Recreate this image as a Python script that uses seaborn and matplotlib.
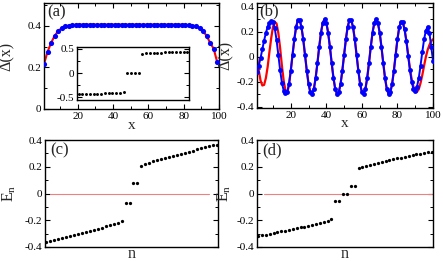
import matplotlib
matplotlib.use("Agg")
import matplotlib.pyplot as plt
import seaborn as sns
from matplotlib.ticker import MultipleLocator, FuncFormatter

# ---------------- data ----------------
# panel (a): order parameter profile, uniform phase
x_a = list(range(1, 100, 2))
delta_a = [0.216, 0.275, 0.318, 0.352, 0.375, 0.389, 0.397, 0.401, 0.403, 0.405,
           0.406, 0.406, 0.406, 0.406, 0.406, 0.406, 0.406, 0.406, 0.406, 0.406,
           0.406, 0.406, 0.406, 0.406, 0.406, 0.406, 0.406, 0.406, 0.406, 0.406,
           0.406, 0.406, 0.406, 0.406, 0.406, 0.406, 0.406, 0.406, 0.406, 0.406,
           0.405, 0.403, 0.401, 0.397, 0.389, 0.375, 0.352, 0.318, 0.29, 0.225]

# inset of (a): spectrum
n_in = list(range(1, 31))
E_in = [-0.445, -0.441, -0.438, -0.435, -0.432, -0.429, -0.426, -0.423, -0.420,
        -0.417, -0.413, -0.409, -0.404,
        0.0, 0.0, 0.0, 0.0,
        0.404, 0.409, 0.413, 0.417, 0.420, 0.423, 0.426, 0.429, 0.432, 0.435,
        0.438, 0.441, 0.445]

# panel (b): oscillating order parameter
x_b = list(range(1, 101))
blue_b = [-0.12, -0.07, -0.01, 0.06, 0.13, 0.19, 0.24, 0.27, 0.285, 0.278,
          0.227, 0.133, 0.015, -0.105, -0.207, -0.270, -0.290, -0.284, -0.218, -0.111,
          0.016, 0.140, 0.239, 0.293, 0.293, 0.239, 0.140, 0.016, -0.111, -0.218,
          -0.284, -0.298, -0.257, -0.168, -0.049, 0.080, 0.194, 0.272, 0.300, 0.272,
          0.194, 0.080, -0.049, -0.168, -0.257, -0.298, -0.284, -0.218, -0.111, 0.016,
          0.140, 0.239, 0.293, 0.293, 0.239, 0.140, 0.016, -0.111, -0.218, -0.284,
          -0.298, -0.257, -0.168, -0.049, 0.080, 0.194, 0.272, 0.300, 0.272, 0.194,
          0.080, -0.049, -0.168, -0.257, -0.298, -0.284, -0.218, -0.111, 0.016, 0.140,
          0.235, 0.280, 0.275, 0.220, 0.125, 0.010, -0.105, -0.200, -0.258, -0.272,
          -0.240, -0.170, -0.070, 0.040, 0.140, 0.210, 0.240, 0.190, 0.080, -0.030]
red_b = [0.00, -0.11, -0.19, -0.23, -0.225, -0.17, -0.08, 0.04, 0.15, 0.24,
         0.28, 0.265, 0.19, 0.07, -0.07, -0.19, -0.27, -0.29, -0.225, -0.111,
         0.016, 0.140, 0.239, 0.293, 0.293, 0.239, 0.140, 0.016, -0.111, -0.218,
         -0.284, -0.298, -0.257, -0.168, -0.049, 0.080, 0.194, 0.272, 0.300, 0.272,
         0.194, 0.080, -0.049, -0.168, -0.257, -0.298, -0.284, -0.218, -0.111, 0.016,
         0.140, 0.239, 0.293, 0.293, 0.239, 0.140, 0.016, -0.111, -0.218, -0.284,
         -0.298, -0.257, -0.168, -0.049, 0.080, 0.194, 0.272, 0.300, 0.272, 0.194,
         0.080, -0.049, -0.168, -0.257, -0.298, -0.284, -0.218, -0.111, 0.016, 0.140,
         0.235, 0.280, 0.275, 0.220, 0.130, 0.020, -0.090, -0.180, -0.240, -0.275,
         -0.280, -0.260, -0.210, -0.145, -0.070, 0.000, 0.055, 0.095, 0.125, 0.140]

# panel (c): spectrum
n_c = list(range(1, 45))
E_c = [-0.365, -0.357, -0.350, -0.343, -0.336, -0.328, -0.320, -0.312, -0.304, -0.296,
       -0.288, -0.280, -0.272, -0.264, -0.255, -0.246, -0.237, -0.228, -0.218, -0.205,
       -0.070, -0.070, 0.075, 0.075,
       0.208, 0.220, 0.230, 0.240, 0.249, 0.257, 0.265, 0.273, 0.281, 0.289,
       0.297, 0.305, 0.313, 0.321, 0.329, 0.337, 0.345, 0.352, 0.359, 0.366]

# panel (d): spectrum
n_d = list(range(1, 47))
E_d = [-0.320, -0.313, -0.307, -0.301, -0.295, -0.289, -0.283, -0.277, -0.271, -0.265,
       -0.259, -0.253, -0.247, -0.240, -0.233, -0.226, -0.219, -0.211, -0.203, -0.193,
       -0.055, -0.055, 0.0, 0.0, 0.055, 0.055,
       0.190, 0.200, 0.208, 0.215, 0.222, 0.229, 0.236, 0.243, 0.250, 0.256,
       0.262, 0.268, 0.274, 0.280, 0.286, 0.292, 0.298, 0.304, 0.309, 0.314]

# ---------------- style ----------------
sns.set_theme(style="ticks")
plt.rcParams["font.family"] = ["Liberation Serif", "DejaVu Serif"]
plt.rcParams["mathtext.fontset"] = "custom"
plt.rcParams["mathtext.rm"] = "Liberation Serif"
plt.rcParams["mathtext.it"] = "Liberation Serif"
plt.rcParams["axes.unicode_minus"] = False
plt.rcParams["axes.linewidth"] = 1.0
plt.rcParams["axes.edgecolor"] = "black"

W, H = 443, 261
fig = plt.figure(figsize=(W / 100, H / 100), dpi=100)


def box(l, r, t, b):
    return [l / W, (H - b) / H, (r - l) / W, (b - t) / H]


fmt = FuncFormatter(lambda v, _: format(round(v, 3), "g"))
TICK = 8


def style(ax, xmaj=None, xmin=None, ymaj=None, ymin=None, xlabels=True, top=True):
    ax.tick_params(which="both", direction="in", top=top, right=True,
                   labelsize=TICK, colors="black", pad=2)
    ax.tick_params(which="major", length=3.5, width=0.8)
    ax.tick_params(which="minor", length=2, width=0.7)
    if xmaj is not None:
        ax.xaxis.set_major_locator(MultipleLocator(xmaj))
        ax.xaxis.set_minor_locator(MultipleLocator(xmin))
    if ymaj is not None:
        ax.yaxis.set_major_locator(MultipleLocator(ymaj))
        ax.yaxis.set_minor_locator(MultipleLocator(ymin))
    ax.yaxis.set_major_formatter(fmt)
    ax.xaxis.set_major_formatter(fmt)
    if not xlabels:
        ax.set_xticks([])
        ax.set_xticks([], minor=True)
    for s in ax.spines.values():
        s.set_color("black")
        s.set_linewidth(1.0)


# ---- (a) ----
axa = fig.add_axes(box(44, 219, 3, 109))
sns.lineplot(x=x_a, y=delta_a, ax=axa, color="red", lw=1.5, zorder=2)
sns.scatterplot(x=x_a, y=delta_a, ax=axa, color="blue", s=14, linewidth=0, zorder=3)
axa.set_xlim(1, 100)
axa.set_ylim(0, 0.51)
style(axa, 20, 10, 0.2, 0.1)
axa.set_xlabel("x", fontsize=11)
axa.set_ylabel("Δ(x)", fontsize=11.5)
axa.yaxis.set_label_coords(-0.165, 0.5)
axa.xaxis.set_label_coords(0.5, -0.09)
axa.text(0.02, 0.99, "(a)", transform=axa.transAxes, ha="left", va="top", fontsize=12)

# inset
axi = fig.add_axes(box(77, 189, 47, 100))
sns.scatterplot(x=n_in, y=E_in, ax=axi, color="black", s=4.5, linewidth=0, zorder=3)
axi.set_xlim(0.6, 30.4)
axi.set_ylim(-0.56, 0.54)
style(axi, ymaj=0.5, ymin=0.25, xlabels=False, top=False)
axi.set_xlabel("")
axi.set_ylabel("")

# ---- (b) ----
axb = fig.add_axes(box(257, 433, 3, 108))
sns.lineplot(x=x_b, y=red_b, ax=axb, color="red", lw=1.6, zorder=2)
sns.lineplot(x=x_b, y=blue_b, ax=axb, color="blue", lw=1.4, marker="o",
             markersize=3.5, markeredgewidth=0, zorder=3)
axb.set_xlim(1, 100)
axb.set_ylim(-0.41, 0.43)
style(axb, 20, 10, 0.2, 0.1)
axb.set_xlabel("x", fontsize=11)
axb.set_ylabel("Δ(x)", fontsize=11.5)
axb.yaxis.set_label_coords(-0.13, 0.5)
axb.xaxis.set_label_coords(0.5, -0.09)
axb.text(0.015, 1.0, "(b)", transform=axb.transAxes, ha="left", va="top", fontsize=12)

# ---- (c) ----
axc = fig.add_axes(box(45, 218, 140, 247))
axc.axhline(0, xmin=0.03, xmax=0.95, color="#f08080", lw=0.8, zorder=1)
sns.scatterplot(x=n_c, y=E_c, ax=axc, color="black", s=5.5, linewidth=0, zorder=3)
axc.set_xlim(0.7, 44.3)
axc.set_ylim(-0.4, 0.4)
style(axc, ymaj=0.2, ymin=0.1, xlabels=False, top=False)
axc.set_xlabel("n", fontsize=11.5)
axc.set_ylabel(r"E$_\mathrm{n}$", fontsize=11.5)
axc.yaxis.set_label_coords(-0.155, 0.5)
axc.xaxis.set_label_coords(0.5, 0.01)
axc.text(0.03, 0.98, "(c)", transform=axc.transAxes, ha="left", va="top", fontsize=12)

# ---- (d) ----
axd = fig.add_axes(box(257, 433, 140, 247))
axd.axhline(0, xmin=0.04, xmax=0.995, color="#f08080", lw=0.8, zorder=1)
sns.scatterplot(x=n_d, y=E_d, ax=axd, color="black", s=5.5, linewidth=0, zorder=3)
axd.set_xlim(0.7, 46.3)
axd.set_ylim(-0.4, 0.4)
style(axd, ymaj=0.2, ymin=0.1, xlabels=False, top=False)
axd.set_xlabel("n", fontsize=11.5)
axd.set_ylabel(r"E$_\mathrm{n}$", fontsize=11.5)
axd.yaxis.set_label_coords(-0.135, 0.5)
axd.xaxis.set_label_coords(0.5, 0.01)
axd.text(0.03, 0.98, "(d)", transform=axd.transAxes, ha="left", va="top", fontsize=12)

fig.savefig("out.png", dpi=100)
